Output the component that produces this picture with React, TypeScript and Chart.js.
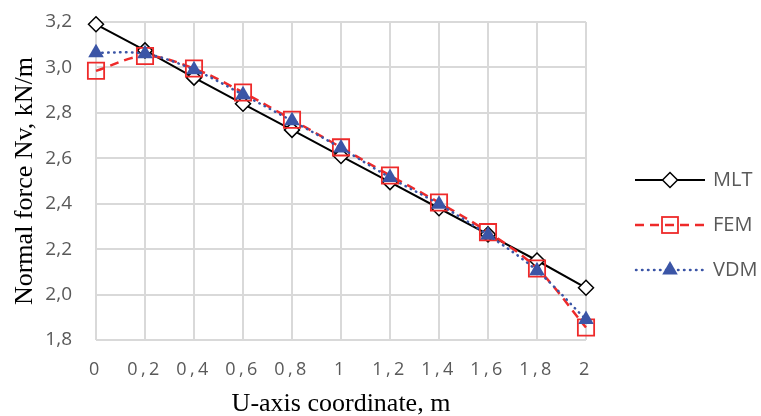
import { useEffect, useRef } from 'react';
import { Chart, registerables } from 'chart.js';

Chart.register(...registerables);

const categories = ['0', '0,2', '0,4', '0,6', '0,8', '1', '1,2', '1,4', '1,6', '1,8', '2'];
const mltValues = [3.19, 3.075, 2.955, 2.84, 2.725, 2.61, 2.495, 2.38, 2.265, 2.15, 2.03];
const femValues = [2.985, 3.05, 2.995, 2.89, 2.77, 2.648, 2.524, 2.405, 2.275, 2.115, 1.855];
const vdmValues = [3.065, 3.06, 2.99, 2.88, 2.765, 2.645, 2.515, 2.398, 2.262, 2.105, 1.89];
const yTickLabels = ['1,8', '2,0', '2,2', '2,4', '2,6', '2,8', '3,0', '3,2'];
const seriesNames = ['MLT', 'FEM', 'VDM'];

const BLACK = '#000000';
const RED = '#ee2a2a';
const BLUE = '#3b55a6';
const GRID = '#d9d9d9';
const TEXT = '#595959';
const NONE = 'rgba(0,0,0,0)';

function makeLegendIcon(kind: string): HTMLCanvasElement {
  const c = document.createElement('canvas');
  c.width = 96;
  c.height = 26;
  const ctx = c.getContext('2d')!;
  const cy = 13;
  const x0 = 26;
  const x1 = 96;
  const mx = 61;
  ctx.lineWidth = 2;
  if (kind === 'MLT') {
    ctx.strokeStyle = BLACK;
    ctx.beginPath();
    ctx.moveTo(x0, cy);
    ctx.lineTo(x1, cy);
    ctx.stroke();
    ctx.fillStyle = '#fff';
    ctx.lineWidth = 1.5;
    ctx.beginPath();
    ctx.moveTo(mx - 7.5, cy);
    ctx.lineTo(mx, cy - 7.5);
    ctx.lineTo(mx + 7.5, cy);
    ctx.lineTo(mx, cy + 7.5);
    ctx.closePath();
    ctx.fill();
    ctx.stroke();
  } else if (kind === 'FEM') {
    ctx.strokeStyle = RED;
    ctx.lineWidth = 2.5;
    ctx.setLineDash([9, 6]);
    ctx.beginPath();
    ctx.moveTo(x0, cy);
    ctx.lineTo(x1, cy);
    ctx.stroke();
    ctx.setLineDash([]);
    ctx.lineWidth = 1.8;
    ctx.strokeRect(mx - 8, cy - 8, 16, 16);
  } else {
    ctx.strokeStyle = BLUE;
    ctx.lineWidth = 2.5;
    ctx.lineCap = 'round';
    ctx.setLineDash([0.5, 5.5]);
    ctx.beginPath();
    ctx.moveTo(x0 + 1, cy);
    ctx.lineTo(x1, cy);
    ctx.stroke();
    ctx.setLineDash([]);
    ctx.fillStyle = BLUE;
    const r = 9;
    ctx.beginPath();
    ctx.moveTo(mx, cy - r);
    ctx.lineTo(mx + r * Math.sin((2 * Math.PI) / 3), cy + r / 2);
    ctx.lineTo(mx - r * Math.sin((2 * Math.PI) / 3), cy + r / 2);
    ctx.closePath();
    ctx.fill();
  }
  return c;
}

const letterSpacingPlugin = {
  id: 'xLabelSpacing',
  afterDatasetsDraw(chart: any) {
    (chart.ctx as any).letterSpacing = '3.5px';
  },
  afterDraw(chart: any) {
    (chart.ctx as any).letterSpacing = '0px';
  },
};

export default function App() {
  const ref = useRef<HTMLCanvasElement | null>(null);

  useEffect(() => {
    if (!ref.current) return;
    const icons = seriesNames.map((n) => makeLegendIcon(n));
    const chart = new Chart(ref.current, {
      type: 'line',
      data: {
        labels: categories,
        datasets: [
          {
            label: seriesNames[0],
            data: mltValues,
            borderColor: BLACK,
            borderWidth: 2,
            tension: 0,
            pointStyle: 'rectRot',
            pointRadius: 7.5,
            pointBorderWidth: 1.5,
            pointBorderColor: BLACK,
            pointBackgroundColor: '#ffffff',
            order: 2,
            clip: false,
          },
          {
            label: seriesNames[1],
            data: femValues,
            borderColor: RED,
            borderWidth: 2.5,
            borderDash: [9, 6],
            tension: 0.35,
            pointStyle: 'rect',
            pointRadius: 11.5,
            pointBorderWidth: 1.8,
            pointBorderColor: RED,
            pointBackgroundColor: NONE,
            order: 1,
            clip: false,
          },
          {
            label: seriesNames[2],
            data: vdmValues,
            borderColor: BLUE,
            borderWidth: 2.5,
            borderDash: [0.5, 5.5],
            borderCapStyle: 'round',
            tension: 0.35,
            pointStyle: 'triangle',
            pointRadius: 9,
            pointBorderWidth: 0,
            pointBorderColor: BLUE,
            pointBackgroundColor: BLUE,
            order: 0,
            clip: false,
          },
        ] as any,
      },
      options: {
        responsive: false,
        animation: false,
        layout: { padding: { top: 22, left: 0, right: 0, bottom: 0 } },
        plugins: {
          tooltip: { enabled: false },
          legend: {
            position: 'right',
            align: 'center',
            maxWidth: 175,
            title: { display: true, text: ' ', font: { size: 10, lineHeight: 1.2 }, padding: 0 },
            labels: {
              usePointStyle: true,
              pointStyleWidth: 92,
              boxHeight: 20,
              padding: 25,
              color: TEXT,
              font: { family: '"Open Sans", "Noto Sans", sans-serif', size: 20 },
              generateLabels: () =>
                seriesNames.map((n, i) => ({
                  text: n,
                  pointStyle: icons[i] as any,
                  fillStyle: NONE,
                  strokeStyle: NONE,
                  lineWidth: 0,
                  hidden: false,
                  datasetIndex: i,
                  fontColor: TEXT,
                })),
            },
          },
        },
        scales: {
          x: {
            type: 'category',
            offset: false,
            afterFit: (s: any) => {
              s.height = 76;
            },
            grid: { color: GRID, lineWidth: 2, drawTicks: true, tickLength: 19, tickColor: NONE },
            border: { display: false },
            ticks: {
              z: 1,
              padding: 0,
              autoSkip: false,
              maxRotation: 0,
              color: TEXT,
              font: { family: '"Open Sans", "Noto Sans", sans-serif', size: 18 },
            },
            title: {
              display: true,
              text: 'U-axis coordinate, m',
              color: BLACK,
              font: { family: '"Liberation Serif", "Times New Roman", serif', size: 26, lineHeight: 0.9 },
              padding: 0,
            },
          },
          y: {
            type: 'linear',
            min: 1.8,
            max: 3.2,
            afterFit: (s: any) => {
              s.width = 96;
            },
            grid: { color: GRID, lineWidth: 2, drawTicks: true, tickLength: 24, tickColor: NONE },
            border: { display: false },
            ticks: {
              stepSize: 0.2,
              padding: 0,
              color: TEXT,
              font: { family: '"Open Sans", "Noto Sans", sans-serif', size: 19 },
              callback: (_v: any, i: number) => yTickLabels[i],
            },
            title: {
              display: true,
              text: 'Normal force Nv, kN/m',
              color: BLACK,
              font: { family: '"Liberation Serif", "Times New Roman", serif', size: 26, lineHeight: 1.2 },
              padding: { top: 10, bottom: 0 },
            },
          },
        },
      },
      plugins: [letterSpacingPlugin],
    });
    return () => chart.destroy();
  }, []);

  return (
    <div style={{ position: 'absolute', left: 0, top: 0, width: 761, height: 416, background: '#fff' }}>
      <canvas ref={ref} width={761} height={416} style={{ display: 'block' }} />
    </div>
  );
}
